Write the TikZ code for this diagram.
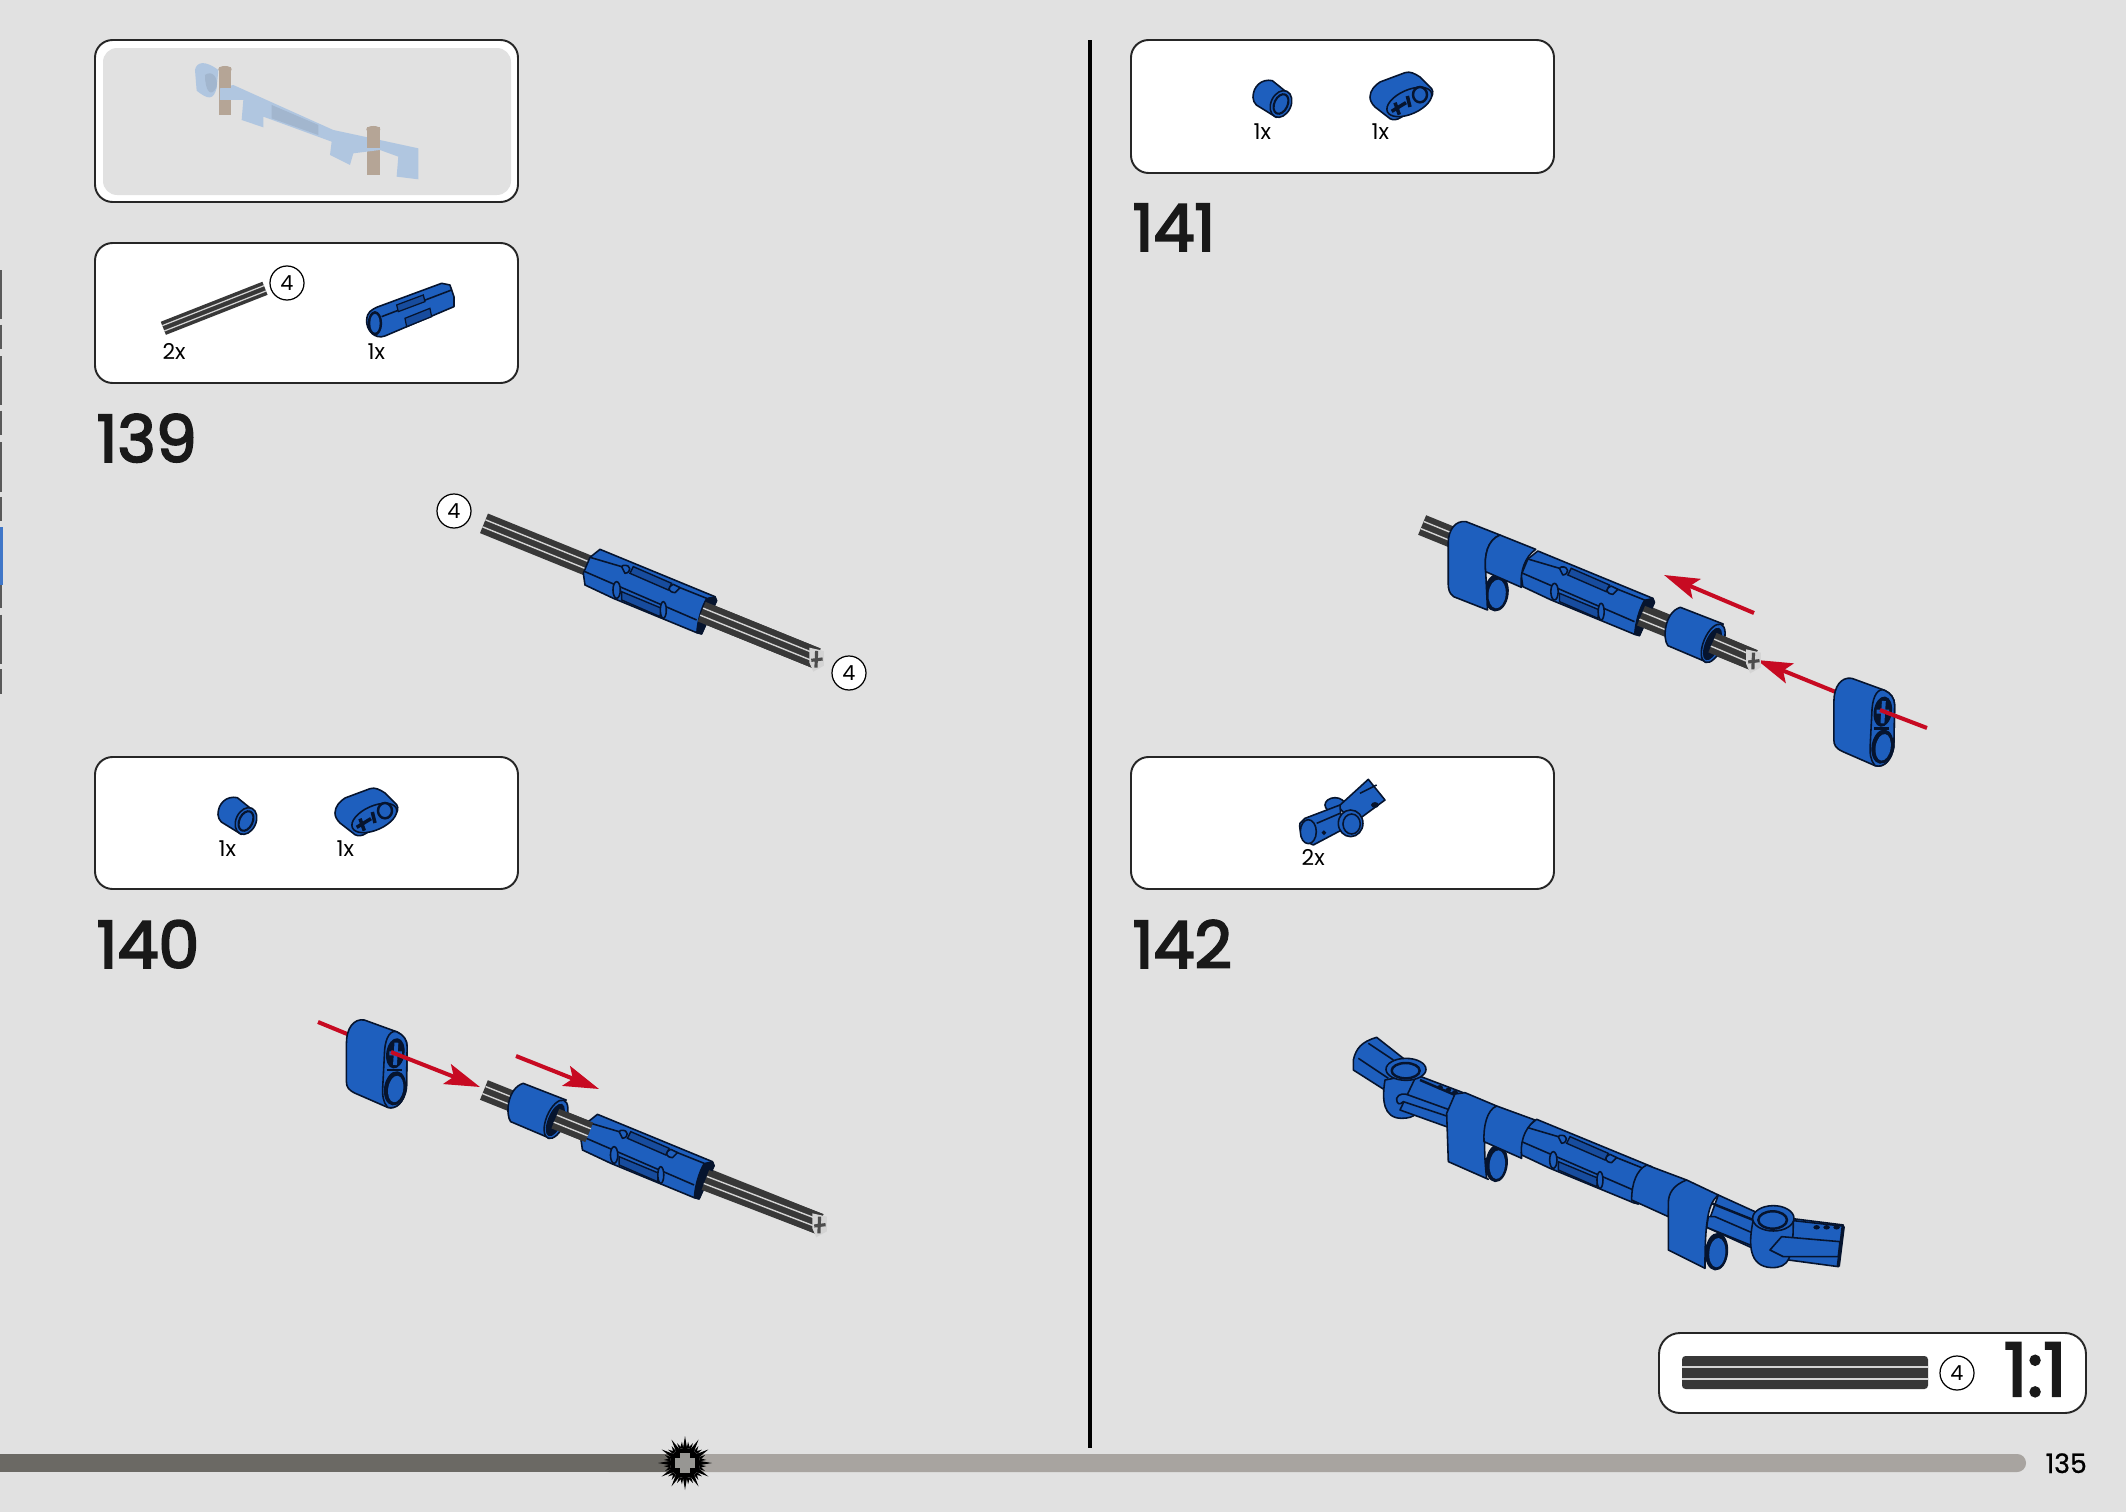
\documentclass[tikz,border=0pt]{standalone}
\usepackage{fontspec}
\setmainfont{Poppins}
\usetikzlibrary{arrows.meta}
\definecolor{pagegray}{HTML}{E1E1E1}
\definecolor{partblue}{HTML}{1E5FBE}
\definecolor{grooveblue}{HTML}{174C9E}
\definecolor{partink}{HTML}{06142E}
\definecolor{axledark}{HTML}{383838}
\definecolor{axlelight}{HTML}{D4D4D4}
\definecolor{arrowred}{HTML}{C70A22}
\definecolor{ghostblue}{HTML}{B0C6E0}
\definecolor{ghostbrown}{HTML}{B5A596}
\definecolor{barldark}{HTML}{6B6964}
\definecolor{barlight}{HTML}{A8A4A0}
\tikzset{
  zoompart/.style={scale=0.3333},
  widepart/.style={xscale=0.3571,yscale=0.3333},
  widescope/.style={xscale=0.3571,yscale=0.3333},
  partfill/.style={fill=partblue,draw=partink,line width=0.45pt,line join=round},
  partedge/.style={draw=partink,line width=0.45pt},
  holefill/.style={fill=partink,draw=partink,line width=0.3pt},
  stepbox/.style={fill=white,draw=black!85,line width=0.55pt,rounded corners=5pt},
  stepnum/.style={anchor=base west,inner sep=0pt,text=black!90,font=\fontsize{18.5}{22}\selectfont\addfontfeature{FakeBold=3}},
  partcount/.style={anchor=base west,inner sep=0pt,font=\fontsize{6.2}{7}\selectfont},
  callnum/.style={circle,fill=white,draw=black,line width=0.35pt,minimum size=0.34cm,inner sep=0pt,font=\fontsize{5.9}{7}\selectfont},
  redshaft/.style={draw=arrowred,line width=1.15pt},
  redarrow/.style={redshaft,-{Stealth[length=10pt,width=6pt,inset=2pt]}},
  pinpart/.pic={
    \path[partfill] (0,0) -- (345,142) -- (350,154) -- (305,254) -- (290,250) -- (40,147) -- (-45,107) -- (-50,72) -- (-30,24) -- cycle;
    \draw[partedge] (-45,67) -- (290,212);
    \draw[partedge] (-30,24) -- (65,52);
    \draw[partedge] (220,107) -- (320,147);
    \path[fill=grooveblue,draw=partink,line width=0.4pt] (100,52) -- (215,102) -- (205,122) -- (90,72) -- cycle;
    \path[fill=grooveblue,draw=partink,line width=0.4pt] (65,127) -- (185,177) -- (180,202) -- (65,152) -- cycle;
    \path[partfill] (70,48) .. controls (95,45) and (95,70) .. (75,72) -- (65,52) -- cycle;
    \path[partfill] (50,122) ellipse [x radius=11,y radius=25];
    \path[partfill] (190,182) ellipse [x radius=9,y radius=25];
    \path[partfill] (220,105) .. controls (200,115) and (205,128) .. (225,130) -- (240,115) -- cycle;
    \path[holefill] (320,147) -- (345,142) -- (350,154) -- (305,254) -- (290,250) .. controls (292,215) and (305,170) .. (320,147) -- cycle;
  },
  bushpart/.pic={
    \path[partfill] (0,0) -- (120,50) -- (75,165) -- (-35,115) .. controls (-50,95) and (-45,15) .. (0,0) -- cycle;
    \path[partfill] (92,108) ellipse [x radius=27,y radius=61,rotate=-21];
    \path[holefill] (90,110) ellipse [x radius=19,y radius=50,rotate=-21];
  },
  beampart/.pic={
    \path[partfill] (0,70) .. controls (0,25) and (20,-5) .. (50,0) -- (140,35) .. controls (160,45) and (170,60) .. (170,80) -- (168,205) .. controls (162,245) and (140,270) .. (115,262) -- (25,220) .. controls (5,210) and (0,200) .. (0,185) -- cycle;
    \path[partfill] (142,36) .. controls (160,45) and (170,60) .. (170,80) -- (168,205) .. controls (162,245) and (140,270) .. (115,262) .. controls (102,245) and (100,225) .. (102,195) -- (107,90) .. controls (110,50) and (125,28) .. (142,36) -- cycle;
    \path[holefill] (136,205) ellipse [x radius=29,y radius=50,rotate=-8];
    \path[fill=partblue] (138,207) ellipse [x radius=21,y radius=40,rotate=-8];
    \path[holefill] (137,100) ellipse [x radius=24,y radius=44,rotate=-8];
    \draw[partblue,line width=1.1pt] (120,100) -- (155,100) (140,68) -- (136,135);
    \draw[partink,line width=0.7pt] (113,150) -- (155,150);
  },
  axleend/.pic={
    \path[fill=axlelight] (-22,-32) -- (22,-22) -- (22,22) -- (-10,40) -- (-22,12) -- cycle;
    \draw[black!70,line width=0.9pt] (0,-22) -- (-2,28) (-16,6) -- (18,2);
  },
  gearspike/.pic={
    \fill[black] (-2.5,-12) -- (0,-27) -- (2.5,-12) -- cycle;
    \fill[black] (-6,-14) -- (-8,-20) -- (-3,-15) -- cycle;
    \fill[black] (6,-14) -- (8,-20) -- (3,-15) -- cycle;
  },
}
\newcommand{\axlebar}[2]{
  \draw[axledark,line width=6pt] #1 -- #2;
  \draw[axlelight,line width=0.4pt,shift={(-4.5,10.5)}] #1 -- #2;
  \draw[axlelight,line width=0.4pt,shift={(4.5,-10.5)}] #1 -- #2;
}
\begin{document}
\begin{tikzpicture}[x=0.01cm,y=-0.01cm]
	\useasboundingbox (0,0) rectangle (2126,1512);
	\fill[pagegray] (0,0) rectangle (2126,1512);
	% cut off text at the page edge
	\draw[black!65,line width=0.7pt,dash pattern=on 14pt off 1.5pt on 7pt off 2pt] (0.8,270) -- (0.8,700);
	\draw[partblue!85!white,line width=1.1pt] (0.8,527) -- (0.8,585);
	\draw[black,line width=0.9pt] (1090,40) -- (1090,1448);

	% boxes
	\draw[stepbox] (95,40) rectangle (518,202);
	\fill[pagegray,rounded corners=4pt] (103,48) rectangle (511,195);
	\draw[stepbox] (95,243) rectangle (518,383);
	\draw[stepbox] (95,757) rectangle (518,889);
	\draw[stepbox] (1131,40) rectangle (1554,173);
	\draw[stepbox] (1131,757) rectangle (1554,889);
	\draw[stepbox,rounded corners=6pt] (1659,1333) rectangle (2086,1413);

	% finished part, faded
	\begin{scope}[shift={(80,20)},scale=0.3333]
		\fill[ghostbrown] (417,140) rectangle (452,285);
		\fill[ghostbrown] (860,320) rectangle (900,465);
		\fill[ghostblue] (345,150) .. controls (350,125) and (375,120) .. (415,150) -- (410,205) .. controls (400,240) and (385,240) .. (350,212) -- cycle;
		\fill[ghostblue!92!black] (375,165) .. controls (395,150) and (415,170) .. (410,200) .. controls (395,235) and (375,215) .. (375,165) -- cycle;
		\fill[ghostblue] (420,205) -- (460,195) -- (760,330) -- (830,345) -- (1015,385) -- (1015,478) -- (950,470) -- (955,410) -- (900,390) -- (820,400) -- (810,435) -- (750,405) -- (755,365) -- (550,290) -- (550,322) -- (485,300) -- (490,240) -- (420,240) -- cycle;
		\fill[ghostbrown] (417,140) rectangle (452,205);
		\fill[ghostbrown] (860,320) rectangle (900,385);
		\fill[ghostblue!92!black] (575,255) -- (715,315) -- (715,345) -- (575,295) -- cycle;
		\fill[ghostbrown] (435,148) ellipse [x radius=20,y radius=10];
		\fill[ghostbrown] (880,328) ellipse [x radius=21,y radius=10];
	\end{scope}

	% parts in step 139 box
	\begin{scope}[shift={(80,20)},scale=0.3333]
		\draw[axledark,line width=4pt] (250,925) -- (555,805);
		\draw[axlelight,line width=0.35pt,shift={(3,8)}] (250,925) -- (555,805);
		\draw[axlelight,line width=0.35pt,shift={(-3,-8)}] (250,925) -- (555,805);
		\path[partfill] (860,900) .. controls (862,875) and (875,870) .. (890,862) -- (1085,790) -- (1110,795) -- (1122,830) -- (1122,860) -- (915,948) .. controls (885,960) and (858,930) .. (860,900) -- cycle;
		\path[holefill] (885,910) ellipse [x radius=20,y radius=35];
		\path[fill=partblue] (885,910) ellipse [x radius=14,y radius=28];
		\draw[partedge] (905,890) -- (1115,810);
		\path[fill=grooveblue,draw=partink,line width=0.35pt] (950,855) -- (1030,825) -- (1035,845) -- (955,875) -- cycle;
		\path[fill=grooveblue,draw=partink,line width=0.35pt] (975,895) -- (1050,865) -- (1055,890) -- (980,920) -- cycle;
	\end{scope}

	% parts in step 140 box and step 141 box
	\foreach \ox/\oy in {218/797,1253/80}{
		\begin{scope}[shift={(\ox,\oy)},scale=0.3333]
			\path[partfill] (0,52) .. controls (0,20) and (25,-5) .. (58,2) -- (105,40) -- (70,112) -- (10,75) .. controls (4,70) and (0,60) .. (0,52) -- cycle;
			\path[partfill] (84,72) ellipse [x radius=30,y radius=42,rotate=-25];
			\path[fill=partblue,draw=partink,line width=0.6pt] (84,72) ellipse [x radius=20,y radius=31,rotate=-25];
		\end{scope}
	}
	\foreach \ox/\oy in {335/788,1370/72}{
		\begin{scope}[shift={(\ox,\oy)},scale=0.3333]
			\path[partfill] (0,75) .. controls (0,55) and (15,40) .. (30,30) -- (105,2) .. controls (120,-3) and (135,5) .. (150,15) -- (185,50) .. controls (192,60) and (188,75) .. (175,85) -- (95,135) .. controls (80,145) and (70,145) .. (60,140) -- (15,105) .. controls (5,95) and (0,85) .. (0,75) -- cycle;
			\path[partfill] (118,90) ellipse [x radius=72,y radius=36,rotate=24];
			\path[fill=partblue,draw=partink,line width=0.7pt] (150,68) ellipse [x radius=21,y radius=23];
			\draw[partink,line width=1pt] (65,118) -- (108,92) (75,92) -- (88,128) (112,72) -- (120,105);
		\end{scope}
	}

	% part in step 142 box
	\begin{scope}[shift={(1120,750)},scale=0.3333]
		\path[partfill] (645,165) ellipse [x radius=30,y radius=22];
		\path[partfill] (745,88) -- (795,150) -- (700,220) -- (655,170) -- cycle;
		\draw[partedge] (720,130) -- (770,105);
		\path[holefill] (765,165) ellipse [x radius=10,y radius=7];
		\path[partfill] (555,205) -- (660,165) -- (665,240) -- (580,285) .. controls (550,275) and (535,240) .. (540,220) -- cycle;
		\draw[partedge] (590,220) -- (660,190);
		\path[partfill] (565,245) ellipse [x radius=24,y radius=36];
		\path[holefill] (612,248) circle (5);
		\path[partfill] (692,220) ellipse [x radius=37,y radius=40];
		\path[fill=partblue,draw=partink,line width=0.45pt] (695,222) ellipse [x radius=26,y radius=30];
	\end{scope}

	% step 139
	\begin{scope}[shift={(400,470)},scale=0.3333]
		\axlebar{(252,160)}{(1250,565)}
		\pic[zoompart] at (600,238) {pinpart};
		\axlebar{(905,425)}{(1250,565)}
		\pic[zoompart] at (1250,565) {axleend};
	\end{scope}

	% step 140
	\coordinate (tailA) at (318,1022);
	\coordinate (midA) at (391,1052);
	\coordinate (tipA) at (480,1087);
	\coordinate (tailB) at (516,1056);
	\coordinate (tipB) at (599,1089);
	\draw[redshaft] (tailA) -- (midA);
	\begin{scope}[shift={(300,1000)},widescope]
		\pic[widepart] at (130,60) {beampart};
		\axlebar{(515,270)}{(1455,672)}
		\pic[zoompart] at (833,343) {pinpart};
		\axlebar{(1135,540)}{(1455,672)}
		\pic[widepart] at (625,250) {bushpart};
		\axlebar{(715,356)}{(810,397)}
		\pic[zoompart] at (1455,672) {axleend};
	\end{scope}
	\draw[redarrow] (midA) -- (tipA);
	\draw[redarrow] (tailB) -- (tipB);

	% step 141
	\coordinate (tailC) at (1754,613);
	\coordinate (tipC) at (1664,575);
	\coordinate (tailD) at (1927,728);
	\coordinate (midD) at (1880,710);
	\coordinate (tipD) at (1757,660);
	\draw[redarrow] (tailC) -- (tipC);
	\draw[redarrow] (midD) -- (tipD);
	\begin{scope}[shift={(1400,500)},widescope]
		\axlebar{(62,75)}{(990,480)}
		\path[holefill] (270,278) ellipse [x radius=33,y radius=55,rotate=-5];
		\path[fill=partblue] (272,282) ellipse [x radius=24,y radius=43,rotate=-5];
		\pic[zoompart] at (386,153) {pinpart};
		\axlebar{(675,347)}{(760,384)}
		\path[partfill] (135,130) .. controls (135,90) and (155,60) .. (185,65) -- (280,105) .. controls (245,120) and (235,165) .. (240,215) -- (245,330) -- (150,290) .. controls (137,280) and (135,265) .. (135,250) -- cycle;
		\path[partfill] (280,105) -- (380,148) .. controls (350,170) and (335,215) .. (340,262) -- (240,215) .. controls (235,165) and (245,120) .. (280,105) -- cycle;
		\pic[widepart] at (785,322) {bushpart};
		\axlebar{(875,428)}{(990,480)}
		\pic[zoompart] at (990,480) {axleend};
		\pic[widepart] at (1215,535) {beampart};
	\end{scope}
	\draw[redshaft] (midD) -- (tailD);

	% step 142
	\begin{scope}[shift={(1340,1030)},scale=0.3333]
		\path[partfill] (40,90) .. controls (48,55) and (65,35) .. (110,22) -- (190,85) -- (150,190) -- (40,120) -- cycle;
		\draw[partedge] (55,85) -- (145,145);
		\draw[partedge] (85,40) -- (160,90);
		\path[partfill] (135,150) .. controls (125,210) and (130,265) .. (185,265) .. controls (225,265) and (240,250) .. (240,200) -- (240,130) -- cycle;
		\path[partfill] (230,135) -- (375,190) -- (325,292) -- (180,240) -- cycle;
		\draw[partedge,line width=0.7pt] (240,150) -- (345,195);
		\foreach \hx/\hy in {300/172,325/180,345/187}{
			\path[holefill] (\hx,\hy) ellipse [x radius=7,y radius=5];
		}
		\path[partfill] (170,205) .. controls (175,190) and (195,190) .. (205,195) -- (330,240) -- (320,258) -- (190,215) .. controls (180,225) and (170,225) .. (170,205) -- cycle;
		\path[partfill] (198,118) ellipse [x radius=60,y radius=33];
		\path[partfill,line width=0.7pt] (197,122) ellipse [x radius=42,y radius=23];
		\path[holefill] (470,400) ellipse [x radius=32,y radius=55,rotate=-5];
		\path[fill=partblue] (472,404) ellipse [x radius=23,y radius=43,rotate=-5];
		\pic[zoompart] at (590,268) {pinpart};
		\path[partfill] (345,192) -- (375,188) -- (470,228) .. controls (432,250) and (428,340) .. (440,445) -- (445,448) -- (325,395) -- (320,250) -- cycle;
		\path[partfill] (470,228) -- (585,270) .. controls (550,300) and (540,340) .. (545,385) -- (432,335) .. controls (430,290) and (440,240) .. (470,228) -- cycle;
		\path[holefill] (1130,665) ellipse [x radius=33,y radius=55,rotate=-5];
		\path[fill=partblue] (1132,668) ellipse [x radius=24,y radius=44,rotate=-5];
		\path[partfill] (1135,495) -- (1245,545) -- (1250,660) -- (1100,592) -- cycle;
		\draw[partedge,line width=0.7pt] (1115,520) -- (1240,570);
		\path[partfill] (1105,560) -- (1125,560) -- (1245,612) -- (1255,655) -- (1100,592) -- cycle;
		\path[partfill] (920,405) -- (1040,450) .. controls (1000,470) and (985,510) .. (985,560) -- (875,510) .. controls (875,460) and (890,420) .. (920,405) -- cycle;
		\path[partfill] (1040,450) -- (1135,495) .. controls (1105,520) and (1095,570) .. (1095,715) -- (985,660) -- (985,520) .. controls (985,490) and (1000,465) .. (1040,450) -- cycle;
		\path[partfill] (1350,565) -- (1510,585) -- (1495,710) -- (1345,690) -- cycle;
		\fill[partink] (1505,585) -- (1515,590) -- (1500,710) -- (1490,708) -- cycle;
		\foreach \hx in {1430,1460,1490}{
			\path[holefill] (\hx,592) ellipse [x radius=8,y radius=5];
		}
		\draw[partedge] (1360,572) -- (1505,588);
		\path[partfill] (1240,570) .. controls (1225,640) and (1225,710) .. (1295,713) .. controls (1345,713) and (1360,690) .. (1360,570) -- cycle;
		\path[partfill] (1290,660) -- (1325,620) -- (1500,635) -- (1495,680) -- (1330,680) -- cycle;
		\path[partfill] (1300,565) ellipse [x radius=62,y radius=38];
		\path[partfill,line width=0.7pt] (1298,570) ellipse [x radius=43,y radius=26];
	\end{scope}

	% scale box
	\fill[axledark,rounded corners=1pt] (1682,1356) rectangle (1928,1389);
	\draw[axlelight,line width=0.4pt] (1682,1367) -- (1928,1367);
	\draw[axlelight,line width=0.4pt] (1682,1379) -- (1928,1379);
	\node[callnum] (callscale) at (1957,1373) {4};
	\node[stepnum,font=\fontsize{21}{24}\selectfont\addfontfeature{FakeBold=3}] (scaletext) at (2003,1396) {1:1};

	% progress bar
	\fill[barlight,rounded corners=2.5pt] (600,1454) rectangle (2026,1472);
	\fill[barldark] (0,1454) rectangle (670,1472);
	\foreach \a in {0,30,...,330}{
		\pic[rotate=\a] at (685,1463) {gearspike};
	}
	\fill[black] (685,1463) circle (15);
	\fill[barldark!70] (680,1453) rectangle (690,1473);
	\fill[barldark!70] (675,1458) rectangle (695,1468);
	\node[anchor=base west,inner sep=0pt,font=\fontsize{7.6}{9}\selectfont\addfontfeature{FakeBold=0.8}] (pagenum) at (2045,1473) {135};

	% step numbers
	\node[stepnum] (step139) at (96,462) {139};
	\node[stepnum] (step140) at (96,968) {140};
	\node[stepnum] (step141) at (1132,251) {141};
	\node[stepnum] (step142) at (1132,968) {142};

	% part counts
	\node[partcount] (count139a) at (162,359) {2x};
	\node[partcount] (count139b) at (367,359) {1x};
	\node[partcount] (count140a) at (218,856) {1x};
	\node[partcount] (count140b) at (336,856) {1x};
	\node[partcount] (count141a) at (1253,139) {1x};
	\node[partcount] (count141b) at (1371,139) {1x};
	\node[partcount] (count142a) at (1301,865) {2x};

	% length callouts
	\node[callnum] (callbox) at (287,283) {4};
	\node[callnum] (callleft) at (454,511) {4};
	\node[callnum] (callright) at (849,673) {4};
\end{tikzpicture}
\end{document}
